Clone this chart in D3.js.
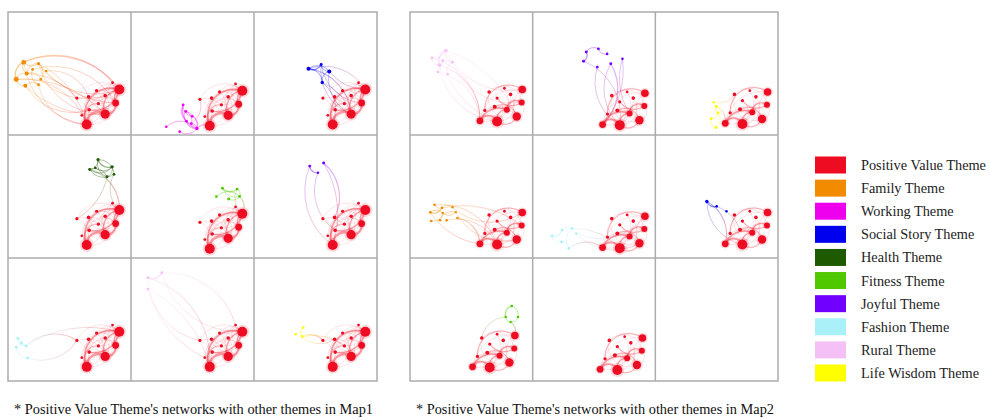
<!DOCTYPE html>
<html><head><meta charset="utf-8">
<script src="https://cdn.jsdelivr.net/npm/d3@7"></script>
<style>body{margin:0;background:#fff} svg{display:block}</style>
</head><body><svg id="c" width="989" height="419"></svg>
<script>
const themeNames = ["Positive Value Theme","Family Theme","Working Theme","Social Story Theme","Health Theme","Fitness Theme","Joyful Theme","Fashion Theme","Rural Theme","Life Wisdom Theme"];
const themeColors = ["#ee0c22","#f28b00","#ee00ee","#0000ee","#1e5a00","#50c800","#7000ff","#aaf0f8","#f5c0f5","#ffff00"];
const captions = ["* Positive Value Theme's networks with other themes in Map1","* Positive Value Theme's networks with other themes in Map2"];

// Positive Value cluster layout (unit coords within a cell) [x, y, weight]
const redNodesMap1 = [[0.905,0.63,10],[0.875,0.74,6],[0.79,0.83,9],[0.64,0.915,10],[0.56,0.70,1.5],[0.655,0.69,2],[0.72,0.64,1.5],[0.79,0.68,2],[0.66,0.795,2],[0.735,0.745,1.5],[0.85,0.575,1],[0.6,0.84,1]];
const redEdgesMap1 = [[3,2,3],[2,1,2.5],[1,0,1.5],[3,0,2],[2,0,1.5],[8,0,1.5],[3,9,1],[4,0,0.6],[4,3,0.6],[5,0,0.6],[5,2,0.6],[6,1,0.6],[6,3,0.6],[7,3,0.6],[7,2,0.6],[8,1,0.6],[9,0,0.6],[10,2,0.6],[10,3,0.6],[11,0,0.6],[4,2,0.6],[5,1,0.6],[6,0,0.6],[7,0,0.6],[9,1,0.6],[10,1,0.6]];
const redNodesMap2 = [[0.915,0.63,7],[0.91,0.735,5],[0.87,0.85,8],[0.71,0.89,10],[0.57,0.885,6],[0.79,0.795,5],[0.645,0.65,2],[0.82,0.67,2],[0.71,0.70,1.5],[0.69,0.77,2.5],[0.61,0.80,1.5],[0.77,0.62,1]];
const redEdgesMap2 = [[4,3,2],[3,2,1],[4,5,2],[5,1,1.5],[3,5,1.5],[8,1,1],[10,0,1],[9,2,1],[4,0,0.6],[6,2,0.6],[7,4,0.6],[11,3,0.6],[6,1,0.6],[9,0,0.6],[10,2,0.6],[7,3,0.6],[8,3,0.6],[0,2,0.6],[1,2,0.6]];

// panels
const panelMap   = [0,0,0,0,0,0,0,0,0, 1,1,1,1,1,1,1,1,1];
const panelRow   = [0,0,0,1,1,1,2,2,2, 0,0,0,1,1,1,2,2,2];
const panelCol   = [0,1,2,0,1,2,0,1,2, 0,1,2,0,1,2,0,1,2];
const panelTheme = [1,2,3,4,5,6,7,8,9, 8,6,9,1,7,3,5,-1,-1];
const panelHasRed = [1,1,1,1,1,1,1,1,1, 1,1,1,1,1,1,1,1,0];
const panelRedShift = [[0,0],[0,0.01],[0,0],[0,-0.02],[0,0.01],[0,-0.02],[0,-0.03],[0,-0.03],[0,-0.03],
                       [0,0],[0,0.03],[0,0.02],[0,0],[0,0.03],[0,0],[-0.06,0],[-0.02,0.02],[0,0]];
const panelNodes = [
  [[0.128,0.408,3],[0.067,0.547,3.5],[0.152,0.501,2.5],[0.141,0.6,2.5],[0.248,0.419,1.5],[0.2,0.467,1],[0.267,0.547,1],[0.248,0.592,1.2],[0.31,0.48,0.8]],
  [[0.424,0.755,1],[0.445,0.808,1.2],[0.497,0.848,1],[0.536,0.947,1.8],[0.451,0.888,1],[0.287,0.933,0.8],[0.396,0.973,0.8],[0.49,0.907,1]],
  [[0.443,0.461,2.5],[0.546,0.427,1.2],[0.612,0.483,2.5],[0.555,0.573,1.8]],
  [[0.732,0.2,1.5],[0.846,0.259,1.8],[0.664,0.28,1.2],[0.862,0.32,1],[0.805,0.339,1.2],[0.71,0.267,0.8]],
  [[0.743,0.432,1],[0.862,0.44,1],[0.883,0.499,1],[0.794,0.52,1.2],[0.694,0.501,0.8]],
  [[0.453,0.253,1.2],[0.566,0.227,1.2],[0.52,0.307,0.8]],
  [[0.08,0.653,1],[0.147,0.715,1],[0.067,0.725,1],[0.16,0.813,1],[0.11,0.69,0.7]],
  [[0.137,0.16,1],[0.251,0.12,1],[0.137,0.253,0.8]],
  [[0.399,0.565,0.8],[0.393,0.64,1],[0.339,0.619,0.6]],
  [[0.293,0.312,1.5],[0.24,0.432,1.8],[0.179,0.373,1],[0.347,0.408,1],[0.267,0.395,0.8],[0.227,0.488,0.8],[0.307,0.507,0.6]],
  [[0.415,0.4,1.2],[0.437,0.325,1.2],[0.536,0.299,1],[0.607,0.341,0.8],[0.527,0.448,1],[0.637,0.421,1.2],[0.732,0.381,0.8]],
  [[0.497,0.768,1.2],[0.511,0.821,1],[0.454,0.867,1.2],[0.495,0.939,1.2],[0.475,0.733,0.6]],
  [[0.2,0.568,0.8],[0.165,0.629,0.8],[0.261,0.592,0.8],[0.347,0.587,0.6],[0.173,0.699,0.8],[0.245,0.693,0.8],[0.299,0.693,0.8],[0.267,0.635,0.6],[0.373,0.627,0.6],[0.387,0.675,0.8]],
  [[0.158,0.82,1],[0.24,0.773,0.8],[0.322,0.76,0.8],[0.295,0.923,1],[0.235,0.869,0.8],[0.355,0.8,0.6]],
  [[0.42,0.54,1.8],[0.5,0.58,0.8],[0.58,0.62,0.6]],
  [[0.83,0.39,0.8],[0.78,0.48,0.8],[0.88,0.48,0.8],[0.82,0.52,0.6]],
  [],
  []
];
const panelEdges = [
  [[0,1],[1,2],[1,3],[2,4],[0,4],[4,6],[5,7],[3,7],[0,2],[2,6]],
  [[0,3],[1,3],[0,4],[2,3],[4,3],[5,3],[6,3],[1,7],[0,2],[7,3],[1,4]],
  [[0,1],[0,2],[1,2],[0,3],[2,3]],
  [[0,1],[0,2],[2,3],[1,4],[0,4],[2,4],[5,1],[0,3],[2,1]],
  [[0,1],[1,2],[0,2],[4,2],[3,2]],
  [[0,2]],
  [[0,1],[2,1],[2,3],[0,4]],
  [[0,1]],
  [[0,1]],
  [[0,1],[1,2],[0,3],[1,3],[2,0],[1,5],[3,6],[4,1]],
  [[0,1],[1,2],[2,3]],
  [[0,1],[1,2],[2,3],[1,3]],
  [[1,2],[2,3],[0,2],[1,7],[4,7],[5,8],[7,8]],
  [[0,1],[1,2],[0,4],[4,3],[2,3]],
  [[0,1]],
  [[0,1],[0,2],[1,3],[2,3]],
  [],
  []
];
const panelCross = [
  [[0,0],[4,0],[4,3],[4,2],[1,3],[3,2],[5,1],[6,0],[2,4],[7,3],[0,10],[4,1],[8,5],[3,8],[1,2],[0,3]],
  [[3,3],[7,4]],
  [[0,2],[2,2],[3,2],[1,1],[0,0],[2,0],[3,3],[1,2]],
  [[2,0],[3,0],[4,4]],
  [[2,0],[1,0]],
  [[1,5],[0,3],[1,3],[2,8]],
  [[1,4],[3,4],[1,0]],
  [[0,3],[1,0],[2,3],[0,4],[1,10],[2,11]],
  [[1,4],[1,5],[1,9]],
  [[1,4],[1,3],[0,2],[3,1],[5,4],[6,3],[2,4],[0,0]],
  [[5,4],[5,3],[6,4],[4,3],[0,3],[6,5]],
  [[0,4],[4,6]],
  [[9,4],[3,0],[2,1],[8,2],[6,3],[1,4],[0,3]],
  [[3,4],[5,0],[2,3],[5,2]],
  [[0,4],[0,3],[1,9]],
  [[3,0],[1,6]],
  [],
  []
];

const svg = d3.select("#c");
const defs = svg.append("defs");
const mapX = [[8,377],[410,778]];
const mapY = [12,381];
const colScale = mapX.map(r => d3.scaleLinear().domain([0,3]).range(r));
const rowScale = d3.scaleLinear().domain([0,3]).range(mapY);
const rScale = d3.scaleLinear().domain([0,10]).range([1,5]);

function arcPath(x1,y1,x2,y2,k,sweep){
  const d = Math.hypot(x2-x1,y2-y1), r = d*k;
  return `M${x1},${y1}A${r},${r} 0 0,${sweep} ${x2},${y2}`;
}

let gid = 0;
panelMap.forEach((m,p) => {
  const cx0 = colScale[m](panelCol[p]), cx1 = colScale[m](panelCol[p]+1);
  const cy0 = rowScale(panelRow[p]), cy1 = rowScale(panelRow[p]+1);
  const xs = d3.scaleLinear().domain([0,1]).range([cx0,cx1]);
  const ys = d3.scaleLinear().domain([0,1]).range([cy0,cy1]);
  const clipId = "clip"+p;
  defs.append("clipPath").attr("id",clipId).append("rect").attr("x",cx0).attr("y",cy0).attr("width",cx1-cx0).attr("height",cy1-cy0);
  const g = svg.append("g").attr("clip-path",`url(#${clipId})`);
  const sh = panelRedShift[p];
  const redN = (m===0?redNodesMap1:redNodesMap2).map(d=>[xs(d[0]+sh[0]),ys(d[1]+sh[1]),d[2]]);
  const redE = m===0?redEdgesMap1:redEdgesMap2;
  const t = panelTheme[p];
  const tN = panelNodes[p].map(d=>[xs(d[0]),ys(d[1]),d[2]]);
  const tc = t>=0?themeColors[t]:"#000";
  const red = themeColors[0];
  // red edges
  if(panelHasRed[p]) {
    redE.forEach((e,i) => {
      const a = redN[e[0]], b = redN[e[1]];
      const path = arcPath(a[0],a[1],b[0],b[1],[0.55,0.62,0.7][i%3],i%4===1?0:1);
      if(e[2]>0.9) g.append("path").attr("d",path)
        .attr("fill","none").attr("stroke",red).attr("stroke-width",e[2]*2.2).attr("stroke-opacity",0.06);
      g.append("path").attr("d",path)
        .attr("fill","none").attr("stroke",red).attr("stroke-width",e[2]>0.9?e[2]*0.8:0.8)
        .attr("stroke-opacity",e[2]>0.9?0.38:0.14);
    });
  }
  // cross edges
  panelCross[p].forEach((e,i) => {
    const a = tN[e[0]], b = redN[e[1]];
    if(!a||!b) return;
    const id = "gr"+(gid++);
    const lg = defs.append("linearGradient").attr("id",id).attr("gradientUnits","userSpaceOnUse")
      .attr("x1",a[0]).attr("y1",a[1]).attr("x2",b[0]).attr("y2",b[1]);
    lg.append("stop").attr("offset","0%").attr("stop-color",tc);
    lg.append("stop").attr("offset","100%").attr("stop-color",red);
    g.append("path").attr("d",arcPath(a[0],a[1],b[0],b[1],i%3===2?1.2:0.8,i%2===0?1:0))
      .attr("fill","none").attr("stroke",`url(#${id})`).attr("stroke-width",i===0?1.2:0.8)
      .attr("stroke-opacity",t===8?0.2:0.3);
  });
  // theme edges
  panelEdges[p].forEach((e,i) => {
    const a = tN[e[0]], b = tN[e[1]];
    g.append("path").attr("d",arcPath(a[0],a[1],b[0],b[1],0.7,i%2))
      .attr("fill","none").attr("stroke",tc).attr("stroke-width",i===0?1.3:0.8).attr("stroke-opacity",0.45);
  });
  // nodes
  const allN = (panelHasRed[p]?redN.map(d=>[...d,red]):[]).concat(tN.map(d=>[...d,tc]));
  g.selectAll(null).data(allN.filter(d=>d[2]>=3)).join("circle")
    .attr("cx",d=>d[0]).attr("cy",d=>d[1]).attr("r",d=>rScale(d[2])*1.4)
    .attr("fill",d=>d[3]).attr("fill-opacity",0.15);
  g.selectAll(null).data(allN).join("circle")
    .attr("cx",d=>d[0]).attr("cy",d=>d[1]).attr("r",d=>rScale(d[2]))
    .attr("fill",d=>d[3]);
});

// grid
[0,1].forEach(m => {
  const gg = svg.append("g").attr("stroke","#acacac").attr("stroke-width",1.5).attr("fill","none");
  gg.append("rect").attr("x",colScale[m](0)).attr("y",rowScale(0)).attr("width",colScale[m](3)-colScale[m](0)).attr("height",rowScale(3)-rowScale(0));
  [1,2].forEach(k => {
    gg.append("line").attr("x1",colScale[m](k)).attr("x2",colScale[m](k)).attr("y1",rowScale(0)).attr("y2",rowScale(3));
    gg.append("line").attr("y1",rowScale(k)).attr("y2",rowScale(k)).attr("x1",colScale[m](0)).attr("x2",colScale[m](3));
  });
  svg.append("text").attr("x",colScale[m](0)+6).attr("y",414)
    .attr("font-family","'Liberation Serif','Times New Roman',serif").attr("font-size",14).attr("fill","#111")
    .attr("textLength",colScale[m](3)-colScale[m](0)-10).attr("lengthAdjust","spacingAndGlyphs")
    .text(captions[m]);
});

// legend
const ly = d3.scaleLinear().domain([0,9]).range([165,373]);
const leg = svg.append("g");
themeNames.forEach((n,i) => {
  leg.append("rect").attr("x",815).attr("y",ly(i)-8.5).attr("width",31).attr("height",17).attr("fill",themeColors[i]);
  leg.append("text").attr("x",861).attr("y",ly(i)+5).attr("font-family","'Liberation Serif','Times New Roman',serif")
    .attr("font-size",14.3).attr("fill","#222").text(n);
});
</script></body></html>
